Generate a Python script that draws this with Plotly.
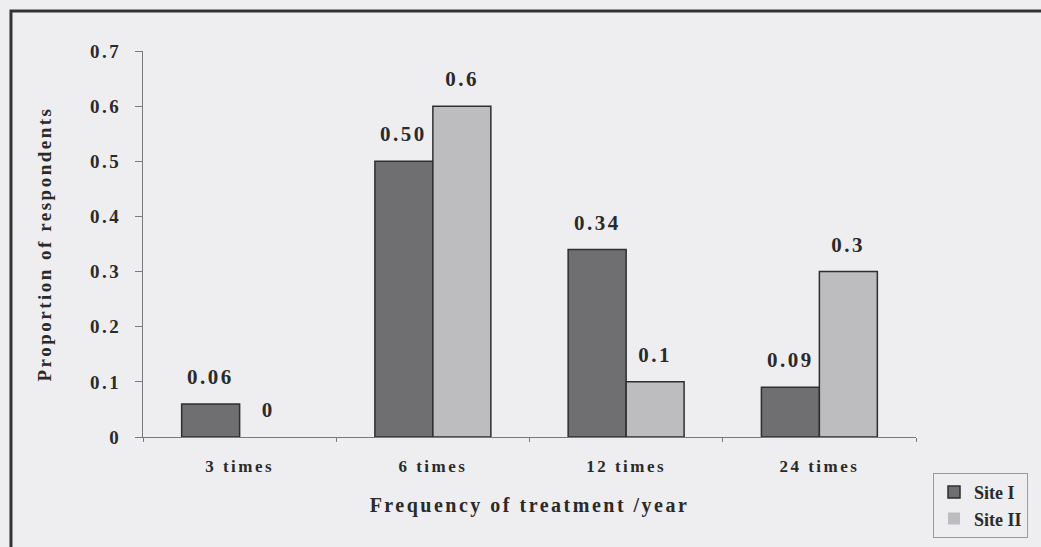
import plotly.graph_objects as go

categories = ["3 times", "6 times", "12 times", "24 times"]
site1_values = [0.06, 0.50, 0.34, 0.09]
site2_values = [0.0, 0.6, 0.1, 0.3]
site1_labels = ["0.06", "0.50", "0.34", "0.09"]
site2_labels = ["0", "0.6", "0.1", "0.3"]
series_names = ["Site I", "Site II"]
y_ticks = [0, 0.1, 0.2, 0.3, 0.4, 0.5, 0.6, 0.7]
y_ticktext = ["0", "0.1", "0.2", "0.3", "0.4", "0.5", "0.6", "0.7"]

FONT = "Liberation Serif"
BG = "#eeeef1"
TXT = "#2a2a2a"

fig = go.Figure()
for vals, name, color in ((site1_values, series_names[0], "#6f6f72"),
                          (site2_values, series_names[1], "#bdbdbf")):
    fig.add_trace(go.Bar(
        x=categories, y=vals, name=name,
        marker=dict(color=color, line=dict(color="#2e2e2e",
                                           width=[1.5 if v > 0 else 0 for v in vals])),
    ))

annotations = []
for vals, labs, shift in ((site1_values, site1_labels, -29), (site2_values, site2_labels, 29)):
    for c, v, t in zip(categories, vals, labs):
        annotations.append(dict(
            x=c, y=v, xref="x", yref="y", text=t, showarrow=False,
            xshift=shift, yshift=27, yanchor="middle", xanchor="center",
            font=dict(family=FONT, size=21, color=TXT, weight="bold"),
        ))

fig.update_layout(
    width=1041, height=547,
    margin=dict(l=143, r=125, t=51, b=110, autoexpand=False),
    paper_bgcolor=BG, plot_bgcolor=BG,
    barmode="group", bargap=0.40, bargroupgap=0.0,
    font=dict(family=FONT, color=TXT),
    annotations=annotations,
    showlegend=True,
    legend=dict(
        x=1.022, y=-0.093, xanchor="left", yanchor="top",
        bgcolor=BG, bordercolor="#9a9a9a", borderwidth=1,
        font=dict(family=FONT, size=18, color=TXT, weight="bold"),
        itemwidth=30,
    ),
    shapes=[dict(
        type="rect", xref="paper", yref="paper",
        x0=-0.1708, x1=1.3, y0=-0.35, y1=1.1036,
        line=dict(color="#333333", width=3), fillcolor="rgba(0,0,0,0)",
        layer="below",
    )],
)

fig.update_xaxes(
    showline=True, linecolor="#7a7a7a", linewidth=1,
    ticks="outside", tickson="boundaries", ticklen=4, tickcolor="#7a7a7a",
    ticklabelstandoff=14,
    showgrid=False, zeroline=False,
    tickfont=dict(family=FONT, size=17, color=TXT, weight="bold"),
    title=dict(text="Frequency of treatment /year", standoff=22,
               font=dict(family=FONT, size=20, color=TXT, weight="bold")),
)
fig.update_yaxes(
    range=[0, 0.7], tickvals=y_ticks, ticktext=y_ticktext,
    showline=True, linecolor="#7a7a7a", linewidth=1,
    ticks="outside", ticklen=7, tickcolor="#7a7a7a",
    ticklabelstandoff=10,
    showgrid=False, zeroline=False,
    tickfont=dict(family=FONT, size=19, color=TXT, weight="bold"),
    title=dict(text="Proportion of respondents", standoff=40,
               font=dict(family=FONT, size=19, color=TXT, weight="bold")),
)

post = """
document.body.style.margin = '0';
var gd = document.getElementById('{plot_id}');
function spaceText() {
  gd.querySelectorAll('text').forEach(function (t) {
    if (!t.classList.contains('legendtext')) { t.style.letterSpacing = '2.5px'; }
  });
}
spaceText();
gd.on('plotly_afterplot', spaceText);
"""

fig.write_html("out.html", post_script=post, config={"displayModeBar": False})
